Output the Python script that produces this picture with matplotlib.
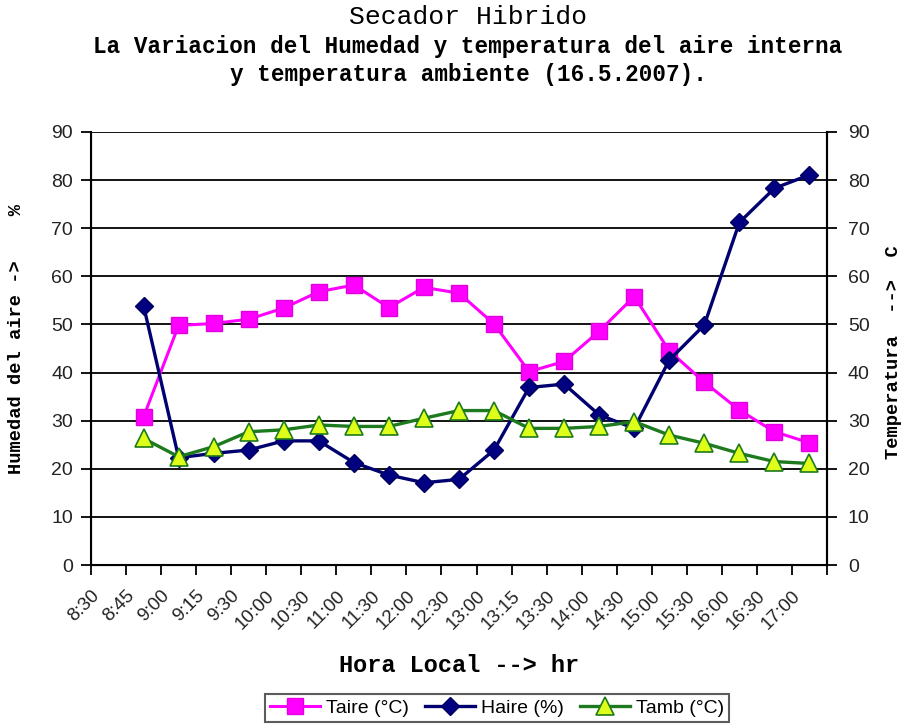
import numpy as np
import matplotlib.pyplot as plt

# categories (hour of day) - first category has no readings
hours = ['8:30', '8:45', '9:00', '9:15', '9:30', '10:00', '10:30', '11:00',
         '11:30', '12:00', '12:30', '13:00', '13:15', '13:30', '14:00',
         '14:30', '15:00', '15:30', '16:00', '16:30', '17:00']

# readings, one per category from 8:45 on
taire = [30.8, 49.8, 50.2, 51.1, 53.4, 56.8, 58.2, 53.5, 57.7, 56.5,
         50.1, 40.2, 42.3, 48.6, 55.8, 44.5, 38.0, 32.2, 27.7, 25.4]
haire = [53.9, 22.3, 23.2, 23.9, 25.8, 25.8, 21.3, 18.7, 17.1, 17.8,
         23.9, 36.9, 37.6, 31.2, 28.4, 42.6, 49.9, 71.2, 78.3, 81.1]
tamb = [26.3, 22.5, 24.6, 27.7, 28.1, 29.1, 28.8, 28.8, 30.5, 32.1,
        32.1, 28.4, 28.4, 28.8, 29.8, 27.0, 25.3, 23.2, 21.5, 21.1]

W, H = 906, 727
fig = plt.figure(figsize=(W / 100, H / 100), dpi=100)
ax = fig.add_axes([91 / W, 1 - 565 / H, (827 - 91) / W, (565 - 132) / H])

x = np.arange(1, len(hours))

ax.plot(x, taire, color='#FF00FF', lw=2.2, marker='s', ms=12,
        mfc='#FF00FF', mec='#E000E0', label='Taire (°C)', zorder=3)
ax.plot(x, haire, color='#000070', lw=2.4, marker='D', ms=9,
        mfc='#000080', mec='#000060', label='Haire (%)', zorder=4)
ax.plot(x, tamb, color='#1E7A1E', lw=2.4, marker='^', ms=13,
        mfc='#DDFF1A', mec='#1E7A1E', mew=1.2, label='Tamb (°C)', zorder=5)

ax.set_xlim(-0.5, len(hours) - 0.5)
ax.set_ylim(0, 90)
ax.set_yticks(np.arange(0, 91, 10))
ax.yaxis.grid(True, color='black', lw=1.3)
ax.set_axisbelow(True)

# ticks sit on category boundaries, labels hang from them
bounds = np.arange(len(hours) + 1) - 0.5
ax.set_xticks(bounds)
ax.set_xticklabels(hours + [''], rotation=45, ha='right', va='top',
                   rotation_mode='anchor', fontsize=13.5,
                   family='Liberation Sans', color='#222222')
ax.tick_params(axis='x', length=7, width=1.3, pad=9)
ax.tick_params(axis='y', length=7, width=1.3, pad=6, labelsize=14,
               labelcolor='#222222')
for lab in ax.get_yticklabels():
    lab.set_family('Liberation Sans')

ax.spines['top'].set_visible(False)
for s in ['left', 'right', 'bottom']:
    ax.spines[s].set_linewidth(1.5)

ax2 = ax.twinx()
ax2.set_ylim(0, 90)
ax2.set_yticks(np.arange(0, 91, 10))
ax2.tick_params(axis='y', length=7, width=1.3, pad=8, labelsize=14,
                labelcolor='#222222')
for lab in ax2.get_yticklabels():
    lab.set_family('Liberation Sans')
ax2.spines['top'].set_visible(False)
ax2.spines['right'].set_linewidth(1.5)

mono = 'Liberation Mono'
fig.text(468 / W, 1 - 17 / H, 'Secador Hibrido', ha='center', va='center',
         family=mono, fontsize=19)
fig.text(468 / W, 1 - 47 / H,
         'La Variacion del Humedad y temperatura del aire interna',
         ha='center', va='center', family=mono, fontsize=16.3,
         fontweight='bold')
fig.text(468 / W, 1 - 74 / H, 'y temperatura ambiente (16.5.2007).',
         ha='center', va='center', family=mono, fontsize=16.3,
         fontweight='bold')

fig.text(459 / W, 1 - 666 / H, 'Hora Local --> hr', ha='center',
         va='center', family=mono, fontsize=17, fontweight='bold')
fig.text(17 / W, 1 - 339 / H, 'Humedad del aire ->    %', rotation=90,
         ha='center', va='center', family=mono, fontsize=13.5,
         fontweight='bold')
fig.text(894 / W, 1 - 352 / H, 'Temperatura  -->  C', rotation=90,
         ha='center', va='center', family=mono, fontsize=13.5,
         fontweight='bold')

leg = fig.legend(loc='center', bbox_to_anchor=(497 / W, 1 - 708 / H),
                 ncol=3, frameon=True, fancybox=False, edgecolor='#333333',
                 handlelength=2.6, handletextpad=0.3, columnspacing=0.8,
                 borderpad=0.25, prop={'family': 'Liberation Sans',
                                       'size': 14})
leg.get_frame().set_linewidth(1.5)

fig.savefig('out.png', dpi=100)
